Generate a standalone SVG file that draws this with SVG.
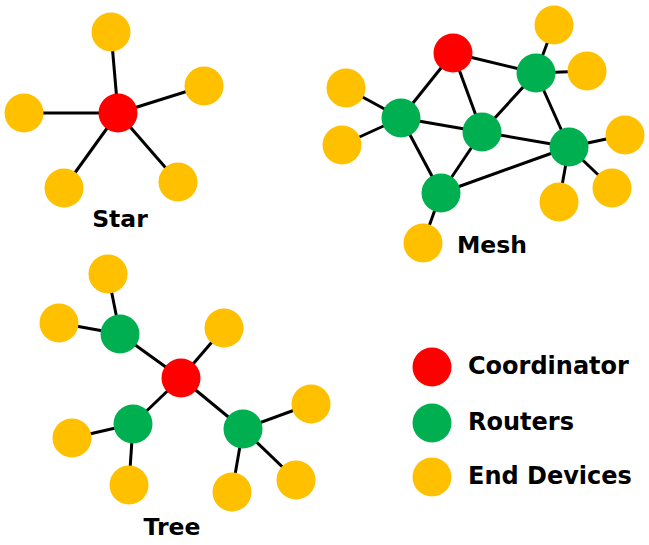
<svg xmlns="http://www.w3.org/2000/svg" width="649" height="545" viewBox="0 0 649 545">
<style>
.c{fill:#FF0000}.r{fill:#00B050}.e{fill:#FFC000}
.ln line{stroke:#000;stroke-width:3}
text{font-family:"DejaVu Sans",Verdana,sans-serif;font-weight:bold;fill:#000}
.t{font-size:23.5px;text-anchor:middle}
.l{font-size:24px}
</style>
<rect width="649" height="545" fill="#fff"/>
<g id="connectors" class="ln">
<!-- star -->
<line x1="118" y1="113" x2="111" y2="32"/>
<line x1="118" y1="113" x2="204" y2="86"/>
<line x1="118" y1="113" x2="24" y2="113"/>
<line x1="118" y1="113" x2="64" y2="188"/>
<line x1="118" y1="113" x2="178" y2="182"/>
<!-- mesh -->
<line x1="453" y1="53" x2="536" y2="73"/>
<line x1="453" y1="53" x2="401" y2="118"/>
<line x1="453" y1="53" x2="482" y2="132"/>
<line x1="536" y1="73" x2="482" y2="132"/>
<line x1="536" y1="73" x2="569" y2="147"/>
<line x1="401" y1="118" x2="482" y2="132"/>
<line x1="401" y1="118" x2="441" y2="193"/>
<line x1="482" y1="132" x2="569" y2="147"/>
<line x1="482" y1="132" x2="441" y2="193"/>
<line x1="441" y1="193" x2="569" y2="147"/>
<line x1="536" y1="73" x2="554" y2="25"/>
<line x1="536" y1="73" x2="587" y2="71"/>
<line x1="401" y1="118" x2="346" y2="88"/>
<line x1="401" y1="118" x2="342" y2="145"/>
<line x1="569" y1="147" x2="625" y2="135"/>
<line x1="569" y1="147" x2="612" y2="188"/>
<line x1="569" y1="147" x2="559" y2="202"/>
<line x1="441" y1="193" x2="423" y2="243"/>
<!-- tree -->
<line x1="181" y1="378" x2="120" y2="334"/>
<line x1="181" y1="378" x2="133" y2="424"/>
<line x1="181" y1="378" x2="243" y2="429"/>
<line x1="181" y1="378" x2="224" y2="328"/>
<line x1="120" y1="334" x2="108" y2="274"/>
<line x1="120" y1="334" x2="59" y2="323"/>
<line x1="133" y1="424" x2="72" y2="438"/>
<line x1="133" y1="424" x2="129" y2="485"/>
<line x1="243" y1="429" x2="311" y2="404"/>
<line x1="243" y1="429" x2="232" y2="492"/>
<line x1="243" y1="429" x2="296" y2="480"/>
</g>
<g id="star">
<circle id="star-coord" class="c" cx="118" cy="113" r="19.5"/>
<circle class="e" cx="111" cy="32" r="19.5"/>
<circle class="e" cx="204" cy="86" r="19.5"/>
<circle class="e" cx="24" cy="113" r="19.5"/>
<circle class="e" cx="64" cy="188" r="19.5"/>
<circle class="e" cx="178" cy="182" r="19.5"/>
<text class="t" x="120" y="227">Star</text>
</g>
<g id="mesh">
<circle class="c" cx="453" cy="53" r="19.5"/>
<circle class="r" cx="536" cy="73" r="19.5"/>
<circle class="r" cx="401" cy="118" r="19.5"/>
<circle class="r" cx="482" cy="132" r="19.5"/>
<circle class="r" cx="569" cy="147" r="19.5"/>
<circle class="r" cx="441" cy="193" r="19.5"/>
<circle class="e" cx="554" cy="25" r="19.5"/>
<circle class="e" cx="587" cy="71" r="19.5"/>
<circle class="e" cx="346" cy="88" r="19.5"/>
<circle class="e" cx="342" cy="145" r="19.5"/>
<circle class="e" cx="625" cy="135" r="19.5"/>
<circle class="e" cx="612" cy="188" r="19.5"/>
<circle class="e" cx="559" cy="202" r="19.5"/>
<circle class="e" cx="423" cy="243" r="19.5"/>
<text class="t" x="492" y="253">Mesh</text>
</g>
<g id="tree">
<circle class="c" cx="181" cy="378" r="19.5"/>
<circle class="r" cx="120" cy="334" r="19.5"/>
<circle class="r" cx="133" cy="424" r="19.5"/>
<circle class="r" cx="243" cy="429" r="19.5"/>
<circle class="e" cx="108" cy="274" r="19.5"/>
<circle class="e" cx="59" cy="323" r="19.5"/>
<circle class="e" cx="224" cy="328" r="19.5"/>
<circle class="e" cx="72" cy="438" r="19.5"/>
<circle class="e" cx="129" cy="485" r="19.5"/>
<circle class="e" cx="311" cy="404" r="19.5"/>
<circle class="e" cx="232" cy="492" r="19.5"/>
<circle class="e" cx="296" cy="480" r="19.5"/>
<text class="t" x="172" y="535">Tree</text>
</g>
<g id="legend">
<g id="legend-coordinator"><circle class="c" cx="432" cy="367" r="19.5"/><text class="l" x="468" y="374">Coordinator</text></g>
<g id="legend-routers"><circle class="r" cx="432" cy="423" r="19.5"/><text class="l" x="468" y="430">Routers</text></g>
<g id="legend-end"><circle class="e" cx="432" cy="477" r="19.5"/><text class="l" x="468" y="484">End Devices</text></g>
</g>
</svg>
